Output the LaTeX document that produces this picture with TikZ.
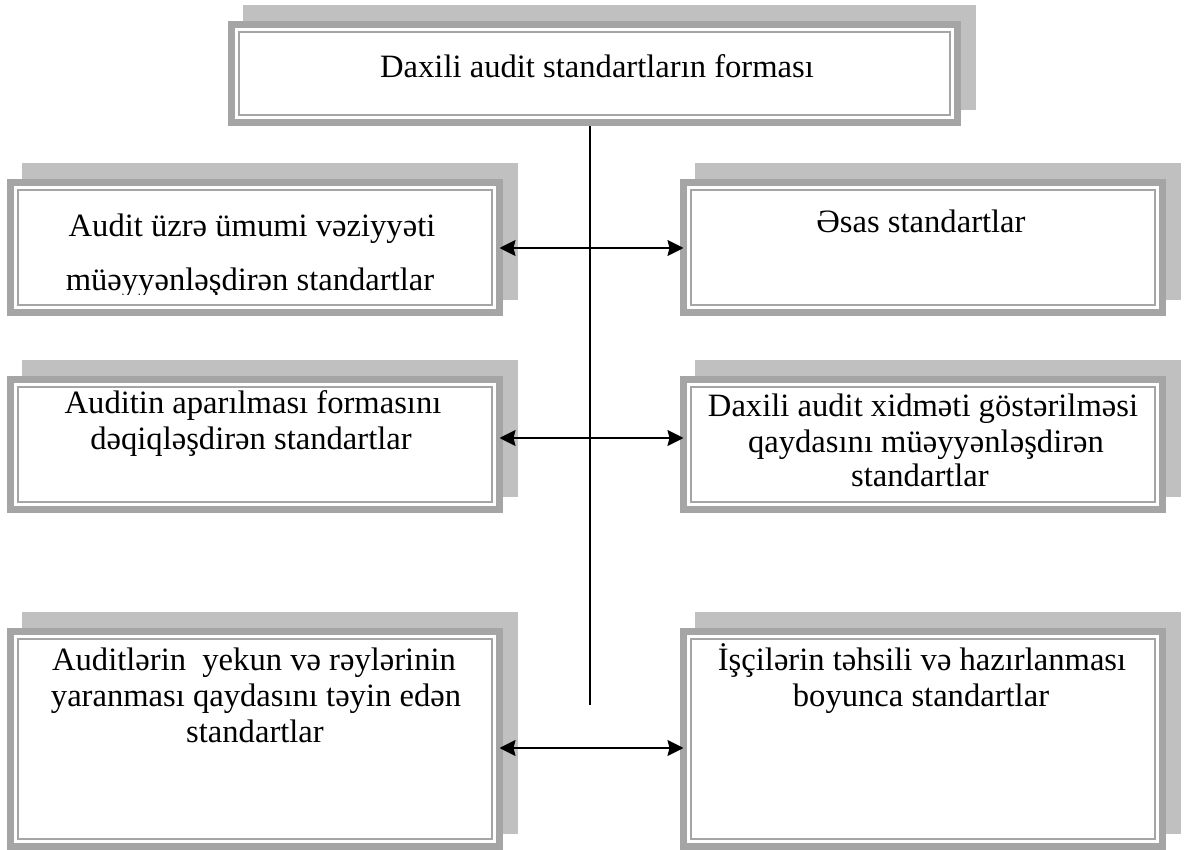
\documentclass[tikz,border=0pt]{standalone}
\usepackage{fontspec}
\setmainfont{Liberation Serif}
\usetikzlibrary{arrows.meta,backgrounds}
\definecolor{shadowC}{HTML}{C0C0C0}
\definecolor{frameC}{HTML}{A5A5A5}
\tikzset{
  stdframe/.style={rectangle, draw=frameC, line width=3.5pt, fill=white, inner sep=0pt, outer sep=0pt},
  txt/.style={font=\fontsize{16.3}{19}\selectfont, inner sep=0pt, anchor=base},
  twoarrow/.style={line width=1pt, {Stealth[length=8pt,width=8pt,inset=1pt]}-{Stealth[length=8pt,width=8pt,inset=1pt]}},
  stemline/.style={line width=0.7pt}
}
% name, x1, y1, x2, y2 (outer edges, px)
\newcommand{\stdbox}[5]{%
  \fill[shadowC] ({#2+15},{#3-16}) rectangle ({#4+15},{#5-16});
  \pgfmathsetmacro{\bw}{(#4-#2-7)*0.5}%
  \pgfmathsetmacro{\bh}{(#5-#3-7)*0.5}%
  \node[stdframe, minimum width=\bw pt, minimum height=\bh pt] (#1) at ({(#2+#4)/2},{(#3+#5)/2}) {};
  \draw[frameC, line width=1.1pt] ([xshift=3.85pt,yshift=-3.85pt]#1.north west) rectangle ([xshift=-3.85pt,yshift=3.85pt]#1.south east);
}
\begin{document}
\begin{tikzpicture}[x=0.5pt,y=-0.5pt]
\useasboundingbox (0,0) rectangle (1195,850);
\stdbox{top}{228}{21}{961}{126}
\stdbox{l1}{7}{179}{503}{316}
\stdbox{r1}{680}{179}{1166}{316}
\stdbox{l2}{7}{376}{503}{513}
\stdbox{r2}{680}{376}{1166}{513}
\stdbox{l3}{7}{628}{503}{850}
\stdbox{r3}{680}{628}{1166}{850}

% texts
\node[txt] (ttop) at (597,78) {Daxili audit standartların forması};
\node[txt] (tl1a) at (252,237) {Audit üzrə ümumi vəziyyəti};
\begin{scope}
  \clip (20,250) rectangle (490,295);
  \node[txt] (tl1b) at (250,291) {müəyyənləşdirən standartlar};
\end{scope}
\node[txt] (tr1a) at (921,233) {Əsas standartlar};
\node[txt] (tl2a) at (253,414) {Auditin aparılması formasını};
\node[txt] (tl2b) at (251,450) {dəqiqləşdirən standartlar};
\node[txt] (tr2a) at (923,416) {Daxili audit xidməti göstərilməsi};
\node[txt] (tr2b) at (926,452) {qaydasını müəyyənləşdirən};
\node[txt] (tr2c) at (920,487) {standartlar};
\node[txt] (tl3a) at (254,670) {Auditlərin~ yekun və rəylərinin};
\node[txt] (tl3b) at (256,706) {yaranması qaydasını təyin edən};
\node[txt] (tl3c) at (255,742) {standartlar};
\node[txt] (tr3a) at (922,670) {İşçilərin təhsili və hazırlanması};
\node[txt] (tr3b) at (921,706) {boyunca standartlar};

% connectors
\coordinate (stemEnd) at (590,705);
\begin{scope}[on background layer]
  \draw[stemline] (top.center -| stemEnd) -- (stemEnd);
\end{scope}
\draw[twoarrow] (l1.east |- 0,248) -- (r1.west |- 0,248);
\draw[twoarrow] (l2.east |- 0,438) -- (r2.west |- 0,438);
\draw[twoarrow] (l3.east |- 0,748) -- (r3.west |- 0,748);
\end{tikzpicture}
\end{document}
